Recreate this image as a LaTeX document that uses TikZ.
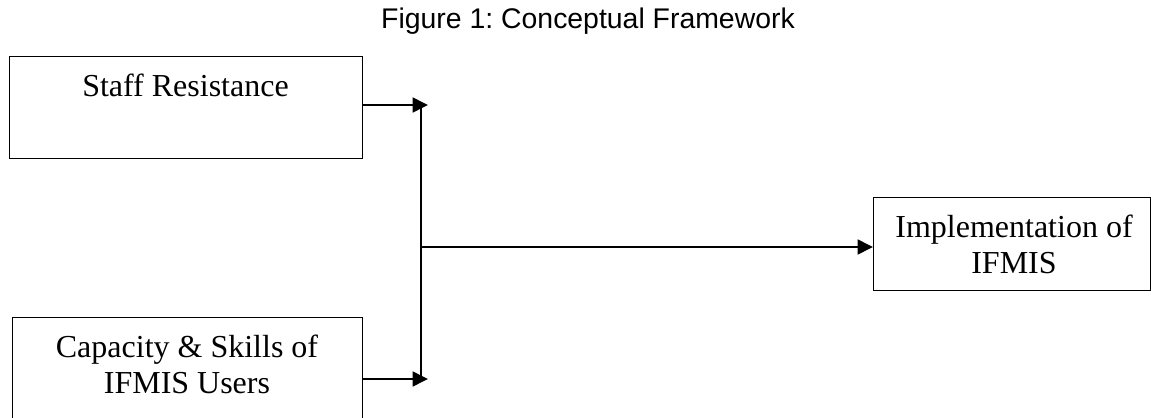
\documentclass[tikz,border=0pt]{standalone}
\usepackage{fontspec}
\setmainfont{Liberation Serif}
\newfontfamily\titlefont{Liberation Sans}
\usetikzlibrary{arrows.meta}
\frenchspacing
\begin{document}
\begin{tikzpicture}[x=0.75pt,y=-0.75pt,
  box/.style={draw,line width=0.9pt,inner sep=0pt,anchor=north west},
  lbl/.style={font=\fontsize{24}{27}\selectfont,align=center,anchor=base,inner sep=0pt},
  arr/.style={line width=1.9pt,-{Triangle[length=11.5pt,width=11pt]}},
  conn/.style={line width=1.9pt}]
\useasboundingbox (0,0) rectangle (1151,417);
\clip (0,0) rectangle (1151,417);
\node[font=\titlefont\fontsize{21.3}{25}\selectfont,anchor=base,inner sep=0pt] (title) at (588,29) {Figure 1: Conceptual Framework};
% boxes
\node[box,minimum width=353*0.75pt,minimum height=102*0.75pt] (b1) at (9,56) {};
\node[box,minimum width=350*0.75pt,minimum height=130*0.75pt] (b2) at (12,317) {};
\node[box,minimum width=277*0.75pt,minimum height=93*0.75pt] (b3) at (873,197) {};
% labels (base anchor = last line baseline)
\node[lbl] (t1) at (185.5,97) {Staff Resistance};
\node[lbl] (t2) at (187,393) {Capacity \& Skills of\\IFMIS Users};
\node[lbl] (t3) at (1014,273) {Implementation of\\IFMIS};
% connectors
\coordinate (j1) at (428,105);
\coordinate (j2) at (428,379);
\coordinate (vt) at (421,105);
\coordinate (vb) at (421,379);
\coordinate (vm) at (421,247);
\draw[arr] (b1.east |- j1) -- (j1);
\draw[arr] (b2.east |- j2) -- (j2);
\draw[conn] (vt) -- (vb);
\draw[arr] (vm) -- (vm -| b3.west);
\end{tikzpicture}
\end{document}
